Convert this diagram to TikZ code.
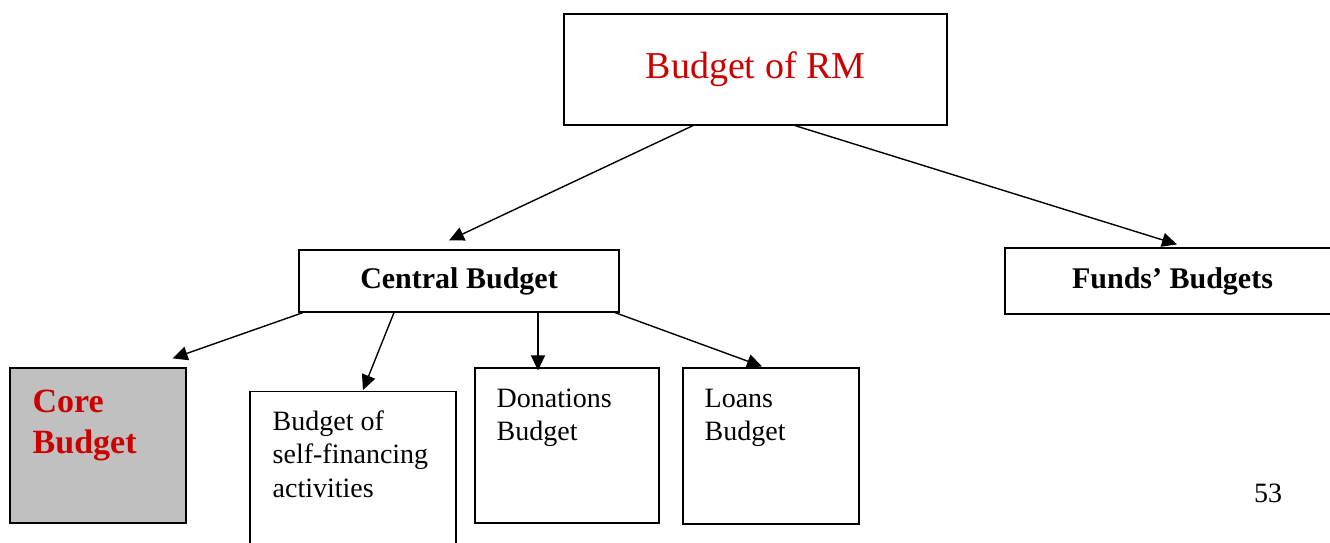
\documentclass[tikz,border=0pt]{standalone}
\usepackage{fontspec}
\setmainfont{Liberation Serif}
\usetikzlibrary{arrows.meta}
\definecolor{rmred}{RGB}{204,0,0}
\definecolor{coregray}{RGB}{192,192,192}
\tikzset{
  box/.style={draw, line width=1.2pt, inner sep=0pt},
  boxtext/.style={anchor=base west, align=left, inner sep=0pt,
    font=\fontsize{28}{33.5}\selectfont},
  headtext/.style={font=\bfseries\fontsize{30}{36}\selectfont},
  >={Triangle[length=15pt,width=14pt]}
}
\begin{document}
\begin{tikzpicture}[x=1pt, y=1pt, line width=1.4pt]
  \useasboundingbox (0,0) rectangle (1330,542);
  % top level
  \node[box, minimum width=383pt, minimum height=111pt, text=rmred,
    font=\fontsize{38}{44}\selectfont] (RM) at (755.5,472.5) {Budget of RM};
  \node[box, headtext, minimum width=320pt, minimum height=62pt] (central) at (459,261) {Central Budget};
  \node[box, headtext, minimum width=335pt, minimum height=66pt] (funds) at (1172.5,261) {Funds’ Budgets};
  % second level
  \node[box, fill=coregray, minimum width=176pt, minimum height=155pt] (core) at (98,96.5) {};
  \node[box, anchor=north, minimum width=206pt, minimum height=200pt] (self) at (353,151) {};
  \node[box, minimum width=184pt, minimum height=155pt] (donations) at (567,96.5) {};
  \node[box, minimum width=176pt, minimum height=156pt] (loans) at (771,96) {};
  \node[boxtext, text=rmred, font=\bfseries\fontsize{34}{41}\selectfont] (coretxt) at (32,89) {Core\\Budget};
  \node[boxtext] (selftxt) at (272,45) {Budget of\\self-financing\\activities};
  \node[boxtext] (dontxt) at (496,101.5) {Donations\\Budget};
  \node[boxtext] (loantxt) at (704,101.5) {Loans\\Budget};
  \node[anchor=base, inner sep=0pt, font=\fontsize{28}{33}\selectfont] (page) at (1268,40) {53};
  % arrows
  \draw[->] ([xshift=-62.5pt]RM.south) -- ([xshift=-10pt,yshift=9pt]central.north);
  \draw[->] ([xshift=39.5pt]RM.south) -- ([xshift=4.5pt,yshift=3pt]funds.north);
  \draw[->] ([xshift=-156pt]central.south) -- ([xshift=-14pt,yshift=9pt]core.north east);
  \draw[->] ([xshift=-65pt]central.south) -- ([xshift=10pt,yshift=1pt]self.north);
  \draw[->] ([xshift=79pt]central.south) -- ([xshift=-29pt,yshift=-3pt]donations.north);
  \draw[->] ([xshift=156pt]central.south) -- ([xshift=-9pt,yshift=1pt]loans.north);
\end{tikzpicture}
\end{document}
